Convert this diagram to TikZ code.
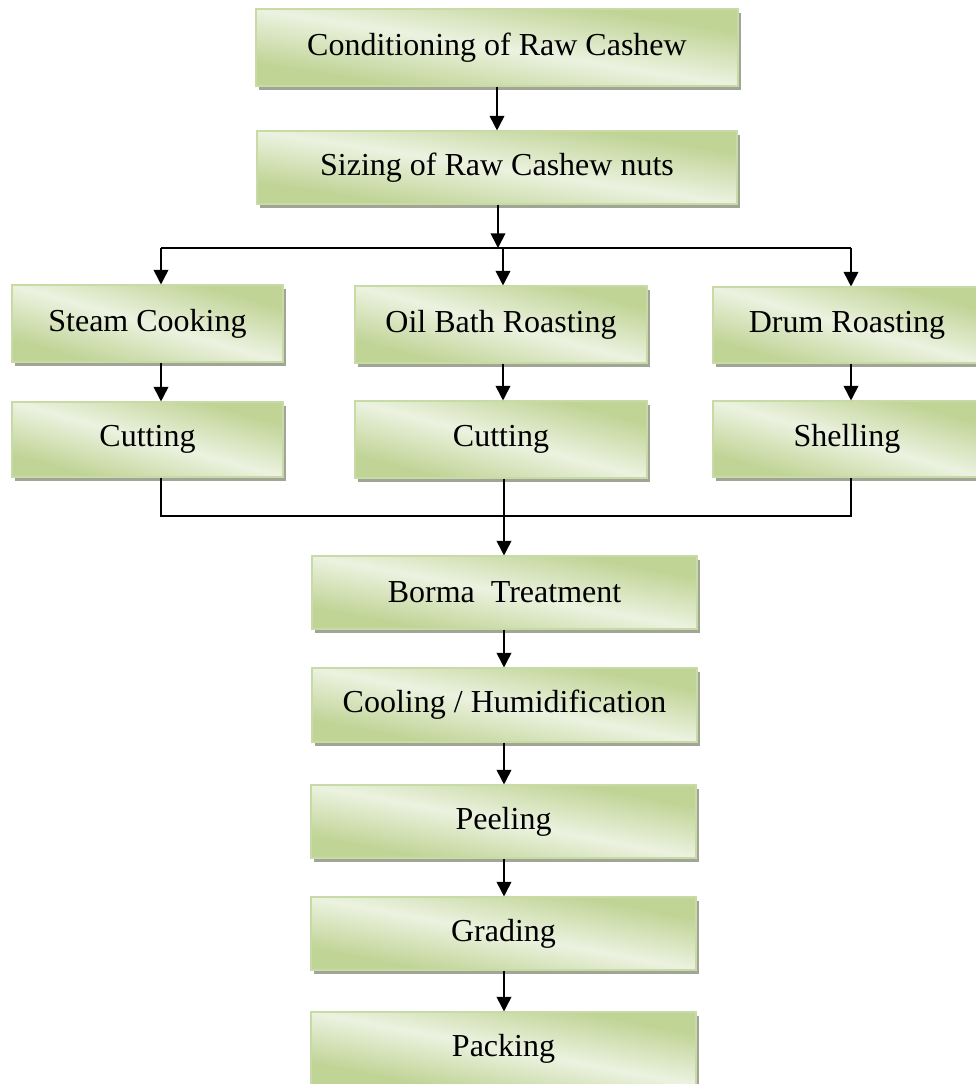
\documentclass[tikz,border=0pt]{standalone}
\usepackage{fontspec}
\setmainfont{Liberation Serif}
\usetikzlibrary{arrows.meta}
\definecolor{dg}{RGB}{192,212,150}
\definecolor{lg}{RGB}{236,242,224}
\definecolor{bord}{RGB}{200,218,165}
\definecolor{shd}{RGB}{160,165,150}
\pgfdeclareverticalshading{cashewgrad}{100bp}{color(0bp)=(dg); color(25bp)=(dg); color(50bp)=(lg); color(75bp)=(dg); color(100bp)=(dg)}
\newcommand{\gbox}[6]{%
  \fill[shd] (#2+3.3,#3+4) ++(-#4/2,-#5/2) rectangle ++(#4,#5);
  \begin{scope}[transform canvas={shift={(#2,#3)}, xscale=#4/100, yscale=#5/100}]
    \shade[shading=cashewgrad, shading angle=-45] (-50,-50) rectangle (50,50);
  \end{scope}
  \node[box, minimum width=#4*0.75pt, minimum height=#5*0.75pt] (#1) at (#2,#3) {#6};
}
\begin{document}
\begin{tikzpicture}[x=0.75pt,y=-0.75pt,
  box/.style={draw=bord, line width=0.8pt, inner sep=0pt,
    font=\fontsize{24pt}{28pt}\selectfont, text=black},
  arr/.style={line width=1.3pt, -{Triangle[width=11pt,length=11pt]}},
  ln/.style={line width=1.3pt}]
\useasboundingbox (0,0) rectangle (975,1084);
% boxes
\gbox{cond}{497}{47.5}{482}{77}{Conditioning of Raw Cashew}
\gbox{size}{497}{167.5}{480}{73}{Sizing of Raw Cashew nuts}
\gbox{steam}{147.5}{323.5}{271}{77}{Steam Cooking}
\gbox{oil}{501}{324.5}{292}{77}{Oil Bath Roasting}
\gbox{drum}{847}{325}{268}{76}{Drum Roasting}
\gbox{cut1}{147.5}{439.5}{271}{75}{Cutting}
\gbox{cut2}{501}{439.5}{292}{77}{Cutting}
\gbox{shell}{847}{439}{268}{76}{Shelling}
\gbox{borma}{504.5}{592.5}{385}{73}{Borma\ \ Treatment}
\gbox{cool}{504.5}{705}{385}{74}{Cooling / Humidification}
\gbox{peel}{503.5}{821.5}{385}{73}{Peeling}
\gbox{grade}{503.5}{933.5}{385}{73}{Grading}
\gbox{pack}{503.5}{1048.5}{385}{73}{Packing}
% junction coordinates
\coordinate (jm) at (498,248);
\coordinate (bl) at (161,248);
\coordinate (bm) at (503,248);
\coordinate (br) at (851,248);
\coordinate (ll) at (161,516);
\coordinate (lm) at (504,516);
\coordinate (lr) at (851,516);
% connectors
\draw[arr] (cond.south) -- (size.north);
\draw[arr] (size.south -| jm) -- (jm);
\draw[ln] (bl) -- (br);
\draw[arr] (bl) -- (bl |- steam.north);
\draw[arr] (bm) -- (bm |- oil.north);
\draw[arr] (br) -- (br |- drum.north);
\draw[arr] (steam.south -| bl) -- (cut1.north -| bl);
\draw[arr] (oil.south -| bm) -- (cut2.north -| bm);
\draw[arr] (drum.south -| br) -- (shell.north -| br);
\draw[ln] (cut1.south -| ll) -- (ll) -- (lr) -- (shell.south -| lr);
\draw[arr] (cut2.south -| lm) -- (borma.north -| lm);
\draw[arr] (borma.south -| lm) -- (cool.north -| lm);
\draw[arr] (cool.south -| lm) -- (peel.north -| lm);
\draw[arr] (peel.south -| lm) -- (grade.north -| lm);
\draw[arr] (grade.south -| lm) -- (pack.north -| lm);
\end{tikzpicture}
\end{document}
